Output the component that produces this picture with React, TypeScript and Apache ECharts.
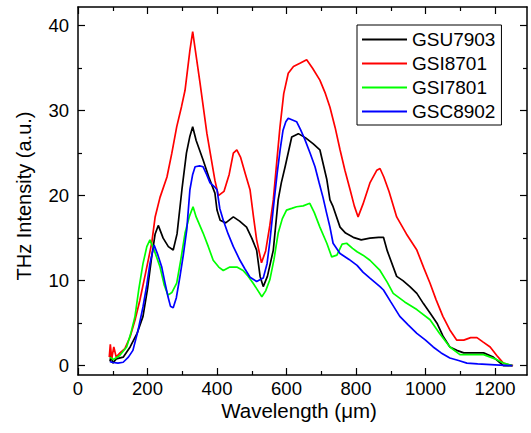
import React, { useEffect, useRef } from "react";
import * as echarts from "echarts";

// ---- data (wavelength µm, intensity a.u.) ----
const seriesNames = ["GSU7903", "GSI8701", "GSI7801", "GSC8902"];

const gsu7903: [number, number][] = [
  [92, 0.5], [95, 1.2], [100, 0.3], [110, 0.8], [130, 1.0], [150, 2.2], [170, 3.8], [187, 5.8],
  [200, 9.0], [212, 12.8], [222, 15.5], [231, 16.5], [245, 15.0], [260, 14.0], [274, 13.6],
  [285, 15.5], [299, 20.7], [312, 25.0], [322, 27.0], [330, 28.1], [340, 26.5], [360, 24.2],
  [378, 22.0], [394, 20.3], [400, 18.3], [409, 17.1], [425, 16.8], [447, 17.5], [465, 17.0],
  [485, 16.3], [500, 15.0], [514, 13.6], [524, 10.5], [533, 9.3], [545, 10.5], [562, 13.6],
  [576, 19.5], [585, 21.5], [596, 23.4], [615, 26.9], [634, 27.3], [655, 26.8], [677, 26.1],
  [696, 25.4], [716, 21.9], [725, 19.5], [734, 18.7], [754, 16.3], [770, 15.6], [792, 15.1],
  [815, 14.8], [840, 15.0], [865, 15.1], [879, 15.1], [890, 13.5], [917, 10.5], [935, 10.0],
  [955, 9.3], [975, 8.5], [994, 7.3], [1013, 6.2], [1033, 5.0], [1050, 3.5], [1070, 2.2],
  [1090, 1.8], [1110, 1.5], [1140, 1.5], [1167, 1.5], [1195, 1.0], [1224, 0.0], [1250, 0.0],
];

const gsi8701: [number, number][] = [
  [90, 1.0], [93, 2.5], [97, 0.8], [103, 2.2], [110, 1.0], [121, 1.5], [135, 2.0], [150, 3.4],
  [165, 5.5], [178, 7.7], [195, 11.0], [212, 14.4], [222, 17.5], [236, 19.8], [256, 22.2],
  [270, 25.0], [284, 28.1], [298, 30.5], [308, 32.4], [322, 37.1], [330, 39.3], [338, 37.0],
  [351, 33.3], [371, 27.3], [394, 21.8], [404, 20.0], [420, 20.5], [435, 22.5], [447, 25.0],
  [457, 25.4], [468, 24.5], [482, 22.5], [495, 20.7], [505, 17.5], [514, 14.8], [528, 12.1],
  [540, 13.5], [552, 16.5], [562, 19.5], [572, 24.0], [581, 28.0], [592, 32.0], [605, 34.4],
  [620, 35.2], [640, 35.6], [658, 36.0], [675, 35.0], [696, 33.6], [712, 32.0], [725, 30.4],
  [740, 28.0], [754, 25.4], [768, 23.0], [783, 20.7], [795, 18.8], [806, 17.5], [820, 19.0],
  [840, 21.5], [860, 23.0], [869, 23.2], [880, 22.2], [895, 20.5], [917, 17.5], [945, 15.5],
  [975, 13.6], [995, 11.5], [1013, 9.7], [1030, 7.8], [1050, 5.8], [1070, 4.2], [1090, 3.0],
  [1110, 3.0], [1130, 3.3], [1148, 3.3], [1165, 2.8], [1186, 2.2], [1205, 1.2], [1224, 0.3],
  [1240, 0.1], [1252, 0.0],
];

const gsi7801: [number, number][] = [
  [92, 1.0], [101, 0.7], [120, 1.2], [140, 2.2], [152, 3.8], [164, 5.8], [175, 9.0], [187, 12.0],
  [198, 14.0], [207, 14.8], [220, 13.5], [236, 11.6], [248, 9.5], [259, 8.3], [270, 8.6],
  [284, 9.7], [296, 12.5], [308, 15.6], [320, 17.5], [331, 18.7], [340, 17.5], [360, 15.6],
  [375, 14.0], [389, 12.4], [405, 11.6], [418, 11.2], [437, 11.6], [457, 11.6], [475, 11.2],
  [490, 10.5], [504, 9.7], [515, 9.0], [529, 8.1], [540, 8.8], [552, 10.1], [564, 12.5],
  [576, 15.6], [588, 17.3], [600, 18.3], [615, 18.5], [629, 18.7], [648, 18.8], [667, 19.1],
  [680, 18.0], [696, 16.3], [716, 14.4], [730, 12.8], [745, 13.0], [760, 14.3], [773, 14.4],
  [790, 13.8], [803, 13.4], [820, 13.0], [840, 12.4], [869, 11.2], [890, 9.8], [907, 8.5],
  [940, 7.5], [975, 6.6], [1013, 5.4], [1040, 3.8], [1070, 2.2], [1099, 1.3], [1130, 1.3],
  [1167, 1.3], [1200, 0.8], [1224, 0.3], [1250, 0.0],
];

const gsc8902: [number, number][] = [
  [92, 0.5], [97, 0.4], [115, 0.3], [130, 0.4], [145, 1.0], [158, 1.8], [172, 4.0], [187, 6.9],
  [198, 9.5], [207, 12.0], [219, 14.2], [230, 13.0], [241, 11.6], [250, 9.8], [259, 8.1],
  [266, 7.0], [274, 6.8], [283, 8.0], [293, 10.4], [303, 13.0], [313, 16.0], [322, 20.7],
  [330, 22.5], [337, 23.4], [350, 23.5], [360, 23.4], [370, 22.5], [380, 21.5], [394, 21.0],
  [400, 20.7], [408, 18.5], [418, 17.1], [432, 15.5], [447, 14.0], [466, 12.4], [480, 11.4],
  [495, 10.4], [514, 9.9], [533, 10.3], [544, 12.0], [552, 14.6], [562, 18.5], [573, 22.6],
  [582, 25.5], [590, 27.7], [598, 28.7], [605, 29.1], [617, 28.9], [629, 28.7], [640, 27.8],
  [653, 26.6], [668, 25.0], [682, 23.4], [694, 21.5], [705, 19.8], [715, 18.0], [725, 16.3],
  [734, 14.4], [754, 13.2], [780, 12.5], [803, 11.8], [820, 11.0], [840, 10.3], [869, 9.3],
  [879, 8.9], [900, 7.5], [926, 5.8], [950, 4.8], [975, 3.8], [1000, 3.0], [1022, 2.2],
  [1045, 1.5], [1070, 0.9], [1095, 0.6], [1119, 0.3], [1150, 0.2], [1200, 0.1], [1250, 0.0],
];

const xMajorTicks = [0, 200, 400, 600, 800, 1000, 1200];
const xMinorTicks = [100, 300, 500, 700, 900, 1100];
const yMajorTicks = [0, 10, 20, 30, 40];
const yMinorTicks = [5, 15, 25, 35];

const xTitle = "Wavelength (\u03bcm)";
const yTitle = "THz Intensity (a.u.)";

const FONT = "'Liberation Sans', Arial, Helvetica, sans-serif";
const colors = ["#000000", "#ff0000", "#00ff00", "#0000ff"];

export default function App() {
  const ref = useRef<HTMLDivElement>(null);
  useEffect(() => {
    if (!ref.current) return;
    const chart = echarts.init(ref.current, null, { renderer: "svg" });
    const X_MIN = 0, X_MAX = 1292, Y_MIN = -1.1, Y_MAX = 42.2;
    const lineStyle = { color: "#000", width: 1.5 };
    const plain = (v: number) => String(v);
    const mkX = (pos: string, major: boolean, labels: boolean, showLine: boolean) => ({
      type: "value",
      position: pos,
      min: X_MIN,
      max: X_MAX,
      axisLine: { show: showLine, onZero: false, lineStyle },
      splitLine: { show: false },
      axisTick: {
        show: true,
        inside: true,
        length: major ? 7 : 4,
        customValues: major ? xMajorTicks : xMinorTicks,
        lineStyle: { color: "#000", width: 1.2 },
      },
      axisLabel: labels
        ? { show: true, customValues: xMajorTicks, formatter: plain, fontSize: 18.5, color: "#000", fontFamily: FONT, margin: 4 }
        : { show: false },
    });
    const mkY = (pos: string, major: boolean, labels: boolean, showLine: boolean) => ({
      type: "value",
      position: pos,
      min: Y_MIN,
      max: Y_MAX,
      axisLine: { show: showLine, onZero: false, lineStyle },
      splitLine: { show: false },
      axisTick: {
        show: true,
        inside: true,
        length: major ? 7 : 4,
        customValues: major ? yMajorTicks : yMinorTicks,
        lineStyle: { color: "#000", width: 1.2 },
      },
      axisLabel: labels
        ? { show: true, customValues: yMajorTicks, formatter: plain, fontSize: 18.5, color: "#000", fontFamily: FONT, margin: 9 }
        : { show: false },
    });
    const datasets = [gsu7903, gsi8701, gsi7801, gsc8902];
    chart.setOption({
      animation: false,
      backgroundColor: "#ffffff",
      grid: { left: 78, right: 4, top: 7, bottom: 58, containLabel: false },
      xAxis: [
        mkX("bottom", true, true, true),
        mkX("bottom", false, false, false),
        mkX("top", true, false, true),
        mkX("top", false, false, false),
      ],
      yAxis: [
        mkY("left", true, true, true),
        mkY("left", false, false, false),
        mkY("right", true, false, true),
        mkY("right", false, false, false),
      ],
      legend: {
        data: seriesNames,
        orient: "vertical",
        left: 357,
        top: 25,
        padding: [5, 6, 4, 5],
        icon: "rect",
        itemWidth: 45,
        itemHeight: 2,
        itemGap: 5,
        borderColor: "#000",
        borderWidth: 1,
        borderRadius: 0,
        backgroundColor: "#fff",
        textStyle: { fontSize: 19, color: "#000", fontFamily: FONT, lineHeight: 19 },
      },
      series: datasets.map((d, i) => ({
        name: seriesNames[i],
        type: "line",
        data: d,
        xAxisIndex: 0,
        yAxisIndex: 0,
        showSymbol: false,
        symbol: "none",
        color: colors[i],
        lineStyle: { color: colors[i], width: 1.7 },
        z: 2 + i,
      })),
      graphic: [
        {
          type: "text",
          x: 299,
          y: 410,
          style: {
            text: xTitle,
            fontSize: 20.5,
            fontFamily: FONT,
            fill: "#000",
            align: "center",
            verticalAlign: "middle",
          },
        },
        {
          type: "text",
          x: 24,
          y: 196,
          rotation: Math.PI / 2,
          style: {
            text: yTitle,
            fontSize: 20,
            fontFamily: FONT,
            fill: "#000",
            align: "center",
            verticalAlign: "middle",
          },
        },
      ],
    });
    return () => chart.dispose();
  }, []);
  return (
    <div
      ref={ref}
      style={{ position: "fixed", left: 0, top: 0, width: 531, height: 433, background: "#fff" }}
    />
  );
}
